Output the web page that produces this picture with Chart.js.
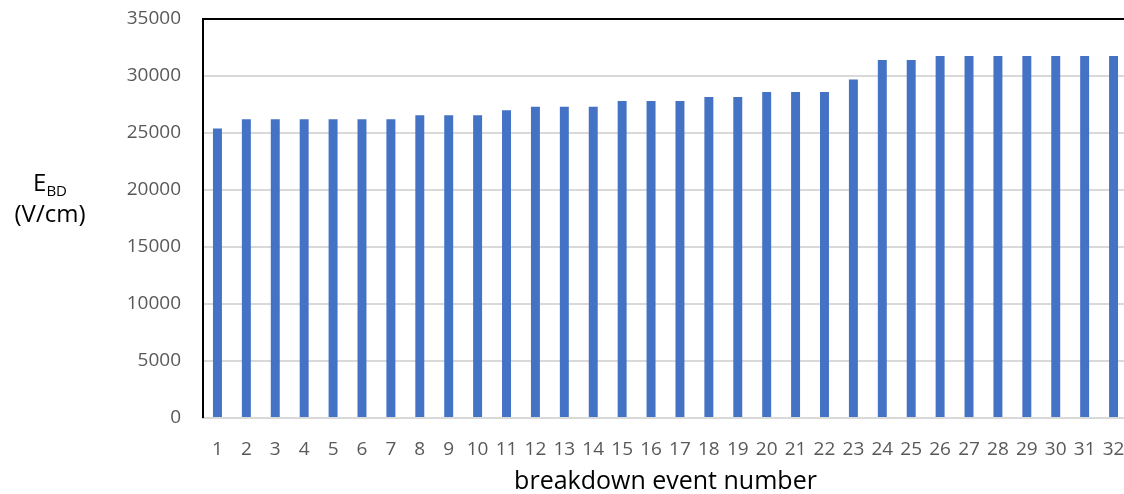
<!DOCTYPE html>
<html>
<head>
<meta charset="utf-8">
<script src="https://cdn.jsdelivr.net/npm/chart.js@4/dist/chart.umd.min.js"></script>
<style>
    html, body { margin: 0; padding: 0; background: #fff; overflow: hidden; }
    #chart { display: block; }
</style>
</head>
<body>
<canvas id="chart" width="1130" height="494"></canvas>
<script>
const eventNumbers = Array.from({ length: 32 }, (_, i) => String(i + 1));
const breakdownField = [
    25400, 26200, 26200, 26200, 26200, 26200, 26200, 26550,
    26550, 26550, 27000, 27300, 27300, 27300, 27800, 27800,
    27800, 28150, 28150, 28600, 28600, 28600, 29700, 31400,
    31400, 31750, 31750, 31750, 31750, 31750, 31750, 31750,
];
const yTicks = [0, 5000, 10000, 15000, 20000, 25000, 30000, 35000];

const COLORS = {
    bar: "#4472c4",
    grid: "#d9d9d9",
    tick: "#595959",
    title: "#000000",
};
const FONT = "'Open Sans', 'Noto Sans', sans-serif";

// frame lines on top/left + the E_BD axis title with its subscript
const framePlugin = {
    id: "frame",
    afterDraw(chart) {
        const { ctx, chartArea } = chart;
        ctx.save();
        ctx.strokeStyle = "#000";
        ctx.lineWidth = 2;
        ctx.beginPath();
        ctx.moveTo(chartArea.left, chartArea.bottom);
        ctx.lineTo(chartArea.left, chartArea.top);
        ctx.lineTo(chart.width, chartArea.top);
        ctx.stroke();

        ctx.fillStyle = COLORS.title;
        ctx.textBaseline = "alphabetic";
        ctx.font = `24px ${FONT}`;
        const eWidth = ctx.measureText("E").width;
        ctx.font = `15px ${FONT}`;
        const subWidth = ctx.measureText("BD").width;
        const startX = 50 - (eWidth + subWidth) / 2;
        ctx.font = `24px ${FONT}`;
        ctx.textAlign = "left";
        ctx.fillText("E", startX, 191);
        ctx.font = `15px ${FONT}`;
        ctx.fillText("BD", startX + eWidth, 196);
        ctx.font = `24px ${FONT}`;
        ctx.textAlign = "center";
        ctx.fillText("(V/cm)", 50, 222);
        ctx.restore();
    },
};

new Chart(document.getElementById("chart").getContext("2d"), {
    type: "bar",
    data: {
        labels: eventNumbers,
        datasets: [{
            data: breakdownField,
            backgroundColor: COLORS.bar,
            borderWidth: 0,
            categoryPercentage: 1,
            barPercentage: 0.31,
        }],
    },
    options: {
        responsive: false,
        animation: false,
        layout: {
            padding: { left: 0, top: 19, right: 2, bottom: 0 },
        },
        plugins: {
            legend: { display: false },
            tooltip: { enabled: false },
        },
        scales: {
            x: {
                grid: { display: false },
                border: { color: COLORS.grid, width: 2 },
                ticks: {
                    color: COLORS.tick,
                    font: { family: FONT, size: 19 },
                    maxRotation: 0,
                    autoSkip: false,
                    padding: 12,
                },
                title: {
                    display: true,
                    text: "breakdown event number",
                    color: COLORS.title,
                    font: { family: FONT, size: 25, lineHeight: 1 },
                    padding: { top: 0, bottom: 0 },
                },
                afterFit: (scale) => {
                    scale.height = 76;
                    scale.paddingRight = 0;
                    scale.paddingLeft = 0;
                },
            },
            y: {
                min: 0,
                max: 35000,
                afterBuildTicks: (scale) => {
                    scale.ticks = yTicks.map((value) => ({ value }));
                },
                grid: {
                    color: COLORS.grid,
                    lineWidth: 2,
                    drawTicks: false,
                },
                border: { display: false },
                ticks: {
                    color: COLORS.tick,
                    font: { family: FONT, size: 19 },
                    padding: 22,
                    callback: (value) => String(value),
                },
                afterFit: (scale) => {
                    scale.width = 203;
                    scale.paddingTop = 0;
                },
            },
        },
    },
    plugins: [framePlugin],
});
</script>
</body>
</html>
